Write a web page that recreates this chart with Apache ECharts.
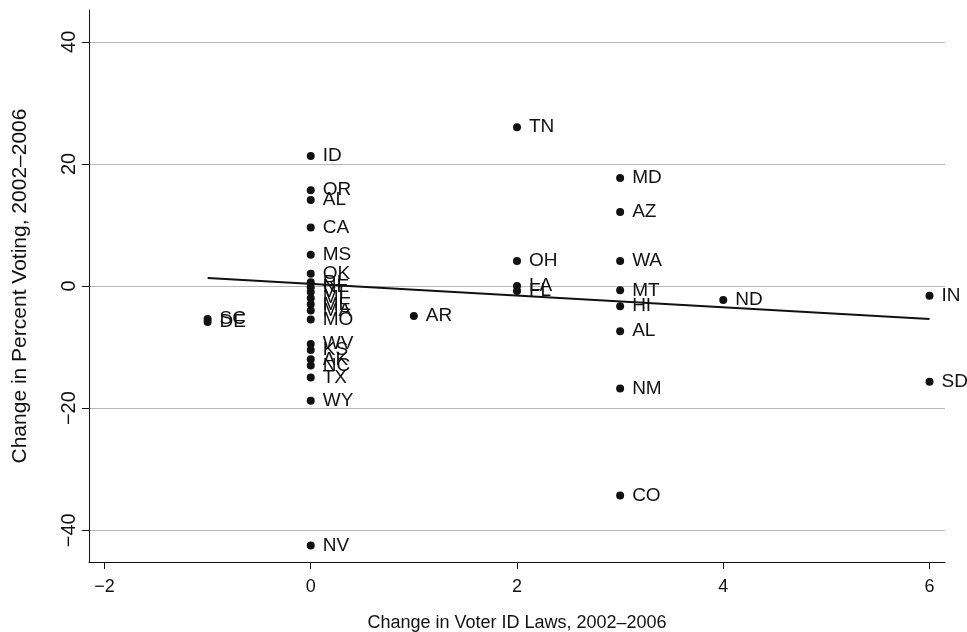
<!DOCTYPE html>
<html><head><meta charset="utf-8">
<script src="https://cdn.jsdelivr.net/npm/echarts@6/dist/echarts.min.js"></script>
<style>html,body{margin:0;padding:0;background:#fff}#c{width:967px;height:632px}</style>
</head><body><div id="c"></div>
<script>
const states = ["ID","OR","AL","CA","MS","OK","RI","NE","VT","MI","ME","MA","MO","WV","KS","AK","NC","TX","WY","NV",
  "SC","DE","AR","TN","OH","LA","FL","MD","AZ","WA","MT","HI","AL","NM","CO","ND","IN","SD"];
const idChange = [0,0,0,0,0,0,0,0,0,0,0,0,0,0,0,0,0,0,0,0,
  -1,-1,1,2,2,2,2,3,3,3,3,3,3,3,3,4,6,6];
const votingChange = [21.3,15.7,14.1,9.6,5.1,2.0,0.6,-0.2,-1.0,-2.0,-3.0,-4.0,-5.5,-9.5,-10.5,-12.0,-13.0,-15.0,-18.8,-42.5,
  -5.4,-5.9,-4.9,26.0,4.1,0.0,-0.8,17.7,12.1,4.1,-0.7,-3.3,-7.4,-16.8,-34.3,-2.3,-1.6,-15.7];
const fitX = [-1, 6];
const fitY = [1.3, -5.4];
const xTicks = [-2,0,2,4,6];
const yTicks = [-40,-20,0,20,40];

const font = "'Liberation Sans', Arial, sans-serif";
const fmt = v => String(v).replace('-', '\u2212');
const pts = states.map((s,i)=>({name:s, value:[idChange[i], votingChange[i]]}));

const chart = echarts.init(document.getElementById('c'));
chart.setOption({
  animation:false,
  grid:{left:89,right:22,top:10,bottom:70,containLabel:false,outerBoundsMode:'none'},
  xAxis:{type:'value',min:-2.15,max:6.15,
    name:'Change in Voter ID Laws, 2002\u20132006',nameLocation:'middle',nameGap:52,
    nameTextStyle:{fontFamily:font,fontSize:18,color:'#111'},
    axisLine:{show:true,onZero:false,lineStyle:{color:'#111',width:1}},
    axisTick:{show:true,length:7,lineStyle:{color:'#111'},customValues:xTicks},
    axisLabel:{fontFamily:font,fontSize:18,color:'#111',margin:16,formatter:fmt,customValues:xTicks},
    splitLine:{show:false}},
  yAxis:{type:'value',min:-45.2,max:45.2,
    name:'Change in Percent Voting, 2002\u20132006',nameLocation:'middle',nameGap:58,nameRotate:90,
    nameTextStyle:{fontFamily:font,fontSize:21,color:'#111'},
    axisLine:{show:true,onZero:false,lineStyle:{color:'#111',width:1}},
    axisTick:{show:true,length:7,lineStyle:{color:'#111'},customValues:yTicks},
    axisLabel:{fontFamily:font,fontSize:20,color:'#111',margin:10,rotate:90,formatter:fmt,customValues:yTicks},
    splitLine:{show:true,lineStyle:{color:'#b8b8b8',width:1}}},
  series:[
    {type:'scatter',data:pts,symbolSize:8,itemStyle:{color:'#111',opacity:1},
     label:{show:true,position:'right',distance:8,offset:[0,2],formatter:p=>p.name,
       fontFamily:font,fontSize:19,color:'#111'},
     labelLayout:{hideOverlap:false}},
    {type:'line',data:fitX.map((x,i)=>[x,fitY[i]]),symbol:'none',
     lineStyle:{color:'#111',width:2},z:3}
  ]
});
</script></body></html>
